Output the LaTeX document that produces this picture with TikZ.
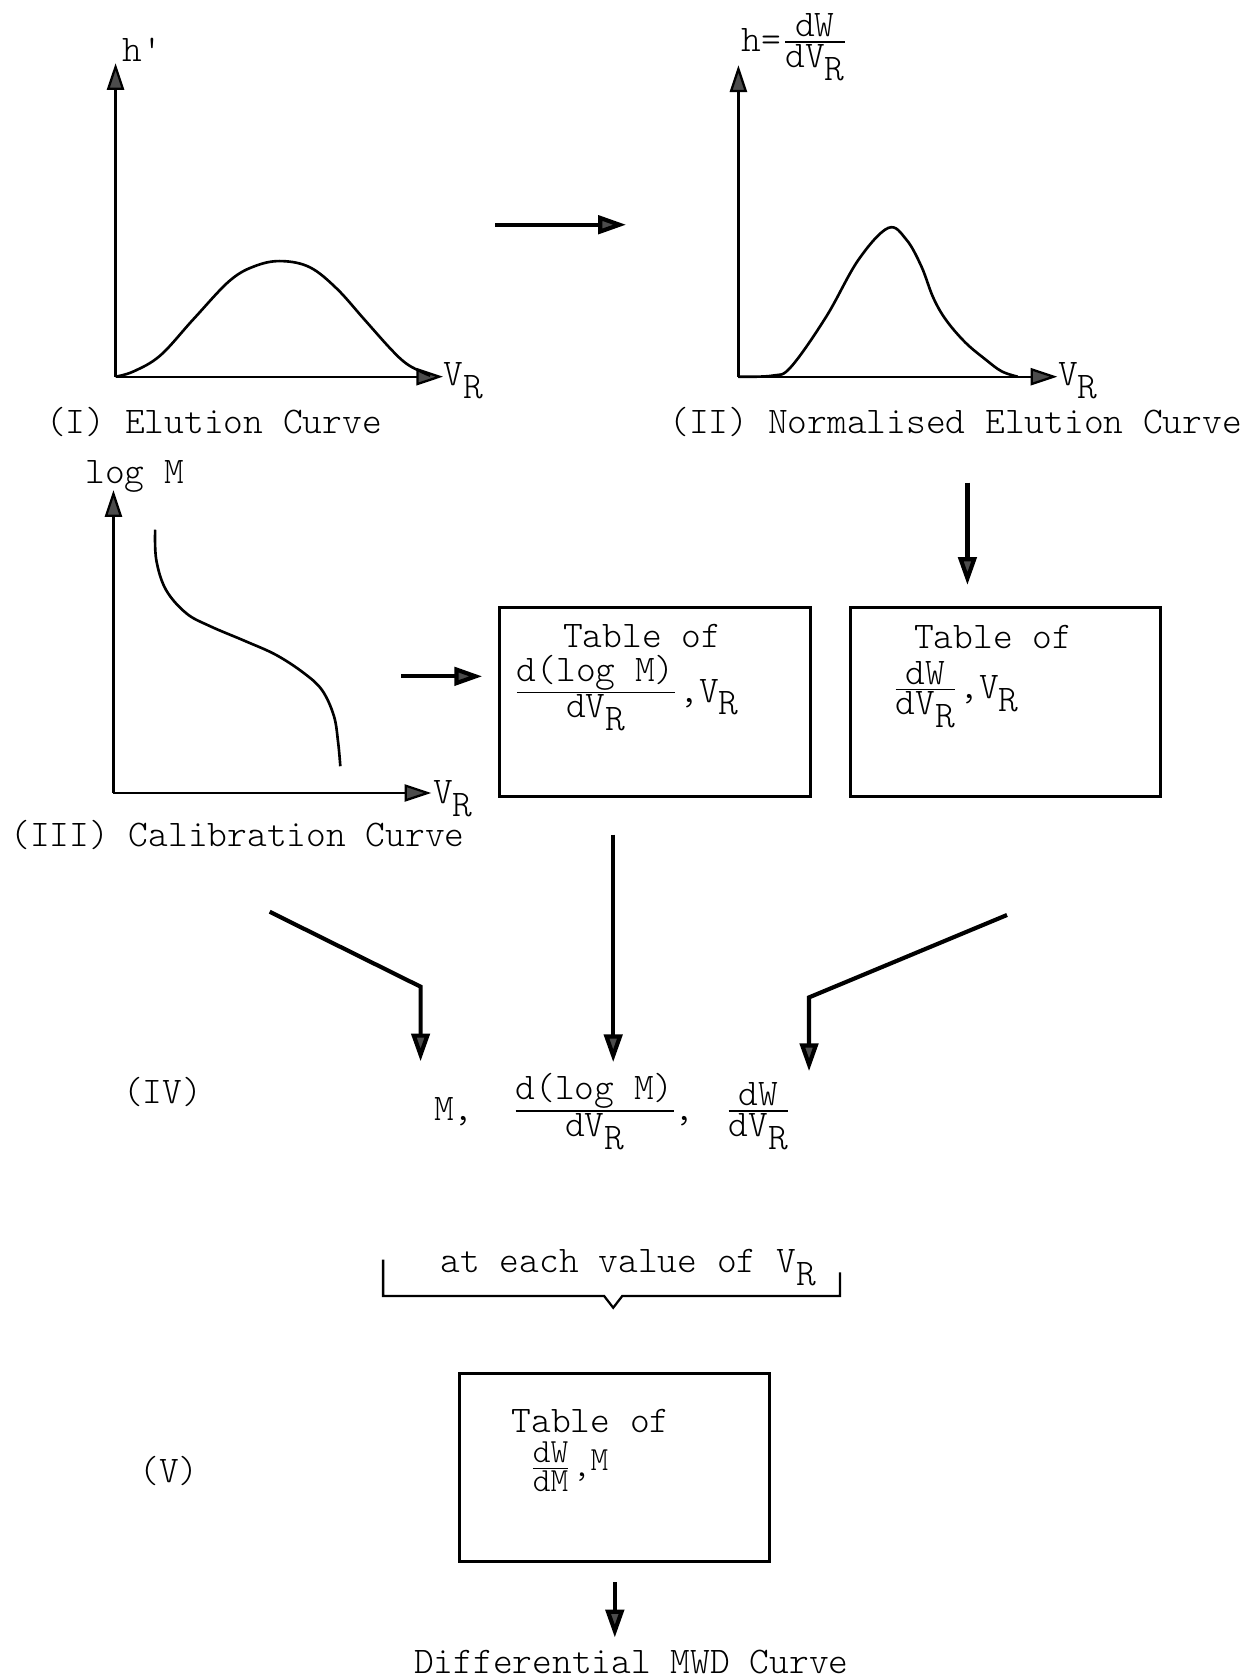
\documentclass[tikz,border=0pt]{standalone}
\usepackage{amsmath}
\usetikzlibrary{arrows.meta}
\newcommand{\lowR}{\raisebox{-.8ex}{R}}
\newcommand{\dfr}[2]{$\frac{\mbox{#1}}{\mbox{#2}}$}

\begin{document}
\begin{tikzpicture}[
    font=\ttfamily\fontseries{l}\selectfont,
    lbl/.style={inner sep=0pt},
    axis/.style={-{Triangle[length=2.5mm,width=1.6mm,fill=black!70]},semithick},
    curve/.style={line width=0.7pt},
    tabbox/.style={draw,line width=0.8pt,minimum width=29mm,minimum height=17.6mm},
    flow/.style={-{Triangle[length=2.6mm,width=1.7mm,fill=black!70]},line width=1.1pt}
]
\useasboundingbox (0,0) rectangle (11.62,-15.68);

% (I) elution curve
\coordinate (o1) at (1.08,-3.52);
\draw[axis] (o1) -- (1.08,-0.59);
\draw[axis] (o1) -- (4.14,-3.52);
\draw[curve] plot[smooth,tension=0.6] coordinates {(1.08,-3.52) (1.25,-3.47) (1.50,-3.32)
    (1.81,-2.98) (2.15,-2.62) (2.40,-2.48) (2.64,-2.44) (2.90,-2.50) (3.15,-2.70)
    (3.40,-2.98) (3.65,-3.26) (3.80,-3.40) (3.95,-3.48) (4.02,-3.51)};
\node[lbl] (hdash) at (1.33,-0.47) {h\textquotesingle};
\node[lbl,anchor=base west] (vr1) at (4.14,-3.60) {V\lowR};
\node[lbl] (capI) at (2.00,-3.94) {(I) Elution Curve};

% (II) normalised elution curve
\coordinate (o2) at (6.90,-3.52);
\draw[axis] (o2) -- (6.90,-0.61);
\draw[axis] (o2) -- (9.88,-3.52);
\draw[curve] plot[smooth,tension=0.6] coordinates {(6.90,-3.52) (7.22,-3.51) (7.39,-3.43)
    (7.72,-2.96) (8.02,-2.43) (8.30,-2.13) (8.47,-2.24) (8.61,-2.49) (8.72,-2.78)
    (8.84,-2.99) (9.02,-3.20) (9.21,-3.36) (9.36,-3.47) (9.51,-3.52)};
\node[lbl,anchor=west] (hnorm) at (6.92,-0.44) {h=\dfr{dW}{dV\lowR}};
\node[lbl,anchor=base west] (vr2) at (9.88,-3.60) {V\lowR};
\node[lbl] (capII) at (8.93,-3.94) {(II) Normalised Elution Curve};

% (III) calibration curve
\coordinate (o3) at (1.06,-7.41);
\draw[axis] (o3) -- (1.06,-4.58);
\draw[axis] (o3) -- (4.03,-7.41);
\draw[curve] plot[smooth,tension=0.6] coordinates {(1.45,-4.95) (1.46,-5.23) (1.55,-5.51)
    (1.74,-5.73) (1.96,-5.85) (2.29,-5.99) (2.58,-6.12) (2.84,-6.29) (3.01,-6.45)
    (3.12,-6.69) (3.16,-6.94) (3.18,-7.16)};
\node[lbl] (logm) at (1.26,-4.45) {log M};
\node[lbl,anchor=base west] (vr3) at (4.04,-7.51) {V\lowR};
\node[lbl] (capIII) at (2.22,-7.80) {(III) Calibration Curve};

% tables
\node[tabbox] (tabA) at (6.12,-6.56) {};
\node[tabbox] (tabB) at (9.395,-6.56) {};
\node[lbl] (tabAhd) at (6.00,-5.94) {Table of};
\node[lbl,anchor=base west] (tabAfr) at (4.78,-6.56) {\dfr{d(log M)}{dV\lowR},V\lowR};
\node[lbl] (tabBhd) at (9.28,-5.95) {Table of};
\node[lbl,anchor=base west] (tabBfr) at (8.32,-6.53) {\dfr{dW}{dV\lowR},V\lowR};

\coordinate (elu-out) at (4.63,-2.10);
\coordinate (norm-in) at (5.85,-2.10);
\draw[flow] (elu-out) -- (norm-in);
\coordinate (cal-out) at (3.75,-6.32);
\draw[flow,shorten >=1.5mm] (cal-out) -- (cal-out -| tabA.west);
\coordinate (norm-out) at (9.04,-4.51);
\draw[flow,shorten >=2mm] (norm-out) -- (norm-out |- tabB.north);

% (IV) values at each V_R
\node[lbl] (rowIV) at (1.52,-10.20) {(IV)};
\node[lbl,anchor=base west] (mval) at (4.05,-10.47) {M,};
\node[lbl,anchor=base west] (fracA) at (4.77,-10.47) {\dfr{d(log M)}{dV\lowR}\hspace{-1pt},};
\node[lbl,anchor=base west] (fracB) at (6.76,-10.47) {\dfr{dW}{dV\lowR}};

\coordinate (cal-down) at (2.52,-8.52);
\coordinate (cal-bend) at (3.93,-9.22);
\draw[flow,shorten >=3.3mm] (cal-down) -- (cal-bend) -- (cal-bend |- mval.north);
\coordinate (tabA-down) at (5.73,-7.80);
\draw[flow,shorten >=1mm] (tabA-down) -- (tabA-down |- fracA.north);
\coordinate (norm-down) at (9.41,-8.55);
\coordinate (norm-bend) at (7.56,-9.32);
\draw[flow,shorten >=1mm] (norm-down) -- (norm-bend) -- (norm-bend |- fracB.north);

\draw[semithick] (3.58,-11.77) -- (3.58,-12.11) -- (5.645,-12.11) -- (5.73,-12.22)
    -- (5.815,-12.11) -- (7.85,-12.11) -- (7.85,-11.89);
\node[lbl,anchor=base west] (each) at (4.11,-11.89) {at each value of V\lowR};

% (V) MWD table
\node[tabbox] (tabC) at (5.745,-13.71) {};
\node[lbl] (tabChd) at (5.52,-13.28) {Table of};
\node[lbl,anchor=base west] (tabCfr) at (4.93,-13.80) {\small\dfr{dW}{dM},\raisebox{.4ex}{M}};
\node[lbl] (rowV) at (1.58,-13.75) {(V)};
\node[lbl] (mwd) at (5.90,-15.53) {Differential MWD Curve};
\draw[flow,shorten <=1.8mm,shorten >=1.1mm] (tabC) -- (tabC |- mwd.north);
\end{tikzpicture}
\end{document}
